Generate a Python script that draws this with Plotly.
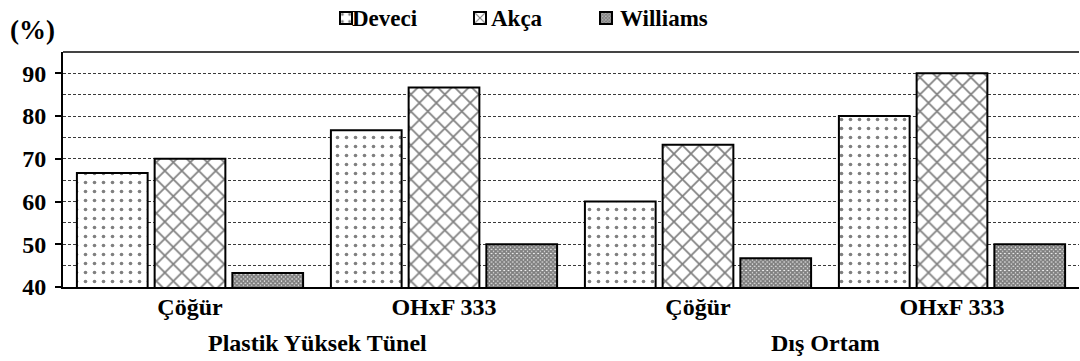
import plotly.graph_objects as go

# Categories and grouping
cultivars = ["Çöğür", "OHxF 333", "Çöğür", "OHxF 333"]
environments = ["Plastik Yüksek Tünel", "Dış Ortam"]

# Series values (%)
series_names = ["Deveci", "Akça", "Williams"]
deveci = [66.7, 76.7, 60.0, 80.0]
akca = [70.0, 86.7, 73.3, 90.0]
williams = [43.3, 50.0, 46.7, 50.0]

y_ticks = [40, 50, 60, 70, 80, 90]

FONT = "Liberation Serif, Times New Roman, Times, serif"
W, H = 1080, 361
M = dict(l=63, r=1, t=52, b=74)
PLOT_H = H - M["t"] - M["b"]
PLOT_W = W - M["l"] - M["r"]
x_pos = list(range(len(cultivars)))

patterns = [
    dict(shape=".", size=9, solidity=0.13),
    dict(shape="x", size=12, solidity=0.26),
    dict(shape="x", size=3, solidity=0.85),
]
# legend symbol left edge (px) and label left edge (px) for each series
legend_sym_x = [340, 474, 600]
legend_txt_x = [352, 491, 620]
legend_y_px = 18
legend_ids = ["legend", "legend2", "legend3"]

fig = go.Figure()
for name, vals, pat, lid in zip(series_names, [deveci, akca, williams], patterns, legend_ids):
    fig.add_trace(go.Bar(
        name="",
        hovertext=name,
        x=x_pos,
        y=vals,
        legend=lid,
        showlegend=True,
        marker=dict(
            color="white",
            line=dict(color="black", width=2),
            pattern=dict(fgcolor="black", bgcolor="white", fillmode="overlay", **pat),
        ),
    ))

legend_common = dict(
    orientation="h",
    xref="container", yref="container",
    xanchor="left", yanchor="middle",
    y=1 - legend_y_px / H,
    itemwidth=30,
    bgcolor="rgba(0,0,0,0)",
    font=dict(family=FONT, size=23, color="black"),
)

fig.update_layout(
    width=W,
    height=H,
    margin=M,
    paper_bgcolor="white",
    plot_bgcolor="white",
    barmode="group",
    bargap=0.082,
    bargroupgap=0.09,
    font=dict(family=FONT, size=24, color="black"),
    legend=dict(x=(legend_sym_x[0] - 14) / W, **legend_common),
    legend2=dict(x=(legend_sym_x[1] - 14) / W, **legend_common),
    legend3=dict(x=(legend_sym_x[2] - 14) / W, **legend_common),
    xaxis=dict(
        range=[-0.5, 3.5],
        tickmode="array",
        tickvals=x_pos,
        ticktext=cultivars,
        tickfont=dict(family=FONT, size=24, color="black", weight="bold"),
        ticklabelstandoff=-3,
        showgrid=False,
        showline=True,
        linecolor="black",
        linewidth=2,
        ticks="",
        zeroline=False,
    ),
    yaxis=dict(
        range=[40, 95],
        tickmode="array",
        tickvals=y_ticks,
        tickfont=dict(family=FONT, size=24, color="black", weight="bold"),
        ticks="outside",
        ticklen=6,
        tickwidth=2,
        tickcolor="black",
        ticklabelstandoff=4,
        showline=True,
        linecolor="black",
        linewidth=2,
        showgrid=True,
        gridcolor="#3a3a3a",
        griddash="3px,2px",
        gridwidth=1,
        minor=dict(dtick=5, tick0=40, showgrid=True, gridcolor="#3a3a3a",
                   griddash="3px,2px", gridwidth=1),
        zeroline=False,
    ),
)

# Top frame line of the plot area
fig.add_shape(type="line", xref="x domain", yref="y domain",
              x0=0, x1=1, y0=1, y1=1, line=dict(color="#444", width=2))

# Legend labels
for name, tx in zip(series_names, legend_txt_x):
    fig.add_annotation(
        x=(tx - M["l"]) / PLOT_W, xref="paper", xanchor="left",
        y=(H - M["b"] - legend_y_px) / PLOT_H, yref="paper", yanchor="middle",
        text=name, showarrow=False, xshift=-2,
        font=dict(family=FONT, size=23, color="black", weight="bold"),
    )

# Environment labels under each pair of cultivars
for i, env in enumerate(environments):
    fig.add_annotation(
        x=2 * i + 0.5, xref="x",
        y=-56 / PLOT_H, yref="paper", yanchor="middle",
        text=env, showarrow=False,
        font=dict(family=FONT, size=24, color="black", weight="bold"),
    )

# Unit label
fig.add_annotation(
    x=(8 - M["l"]) / PLOT_W, xref="paper", xanchor="left",
    y=1 + 22 / PLOT_H, yref="paper", yanchor="middle",
    text="(%)", showarrow=False,
    font=dict(family=FONT, size=27, color="black", weight="bold"),
)

fig.write_html("out.html")
